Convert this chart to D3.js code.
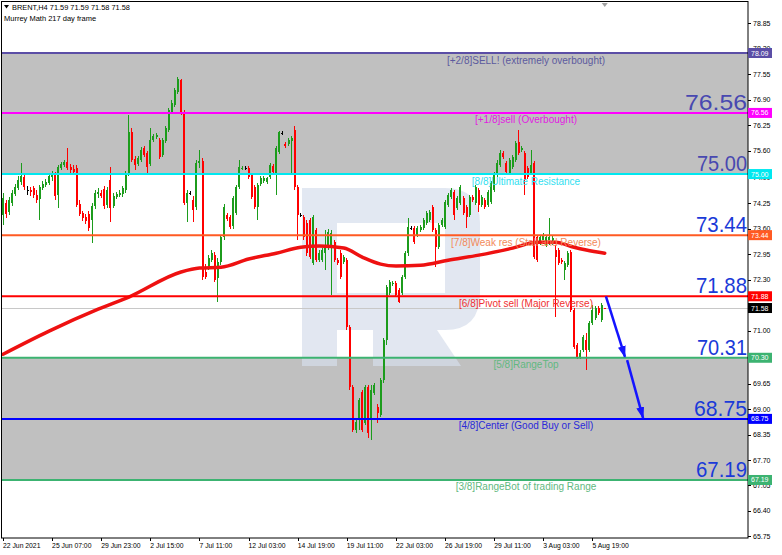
<!DOCTYPE html>
<html>
<head>
<meta charset="utf-8">
<script src="https://cdn.jsdelivr.net/npm/d3@7"></script>
<style>
  html, body { margin: 0; padding: 0; background: #ffffff; }
  svg { display: block; font-family: "Liberation Sans", Arial, sans-serif; }
</style>
</head>
<body>
<svg id="chart" width="782" height="555"></svg>
<script>
// ---- data -------------------------------------------------------------
const symbolTitle = "BRENT,H4";
const lastQuote = ["71.59", "71.59", "71.58", "71.58"];
const indicatorName = "Murrey Math 217 day frame";

// H4 candles [open, high, low, close], 22 Jun 2021 .. 6 Aug 2021
const candles = [
  [73.95,74.52,73.70,74.39],[74.26,74.34,73.87,73.98],[74.03,74.41,73.95,74.34],[74.26,74.59,74.18,74.52],
  [74.49,74.74,74.44,74.67],[74.64,74.95,74.59,74.85],[74.80,75.28,74.72,74.95],[74.92,75.00,74.59,74.67],
  [74.59,74.69,74.46,74.59],[74.59,74.67,74.44,74.54],[74.64,74.69,74.39,74.46],[74.46,74.59,74.26,74.34],
  [74.36,74.72,73.83,74.67],[74.64,74.82,74.59,74.74],[74.72,74.87,74.67,74.80],[74.77,75.03,74.72,74.95],
  [74.92,75.08,74.82,75.03],[75.00,75.05,74.34,74.44],[74.46,75.23,74.13,75.18],[75.15,75.31,75.10,75.26],
  [75.23,75.36,75.18,75.31],[75.31,75.66,75.10,75.15],[75.18,75.26,75.03,75.10],[75.13,75.23,74.97,75.05],
  [75.15,75.23,74.16,74.21],[74.23,74.34,73.93,73.98],[74.00,74.05,73.80,73.87],[73.90,73.98,73.72,73.80],
  [73.98,74.05,73.54,73.62],[73.83,74.26,73.24,74.18],[74.18,74.59,74.10,74.52],[74.49,74.64,74.39,74.54],
  [74.52,74.59,74.39,74.44],[74.62,74.69,74.10,74.18],[74.21,74.67,74.13,74.59],[74.85,75.18,73.77,74.13],
  [74.18,74.52,74.13,74.44],[74.41,74.54,74.36,74.49],[74.46,74.59,74.41,74.52],[74.49,74.69,74.41,74.64],
  [74.59,75.08,74.52,75.03],[75.00,76.51,74.95,76.07],[76.07,76.17,75.31,75.36],[75.38,75.46,75.10,75.23],
  [75.26,75.46,75.20,75.41],[75.36,75.69,75.31,75.61],[75.66,75.72,75.44,75.49],[75.54,75.59,75.03,75.18],
  [75.26,76.17,75.20,75.87],[75.87,76.02,75.82,75.97],[75.95,76.05,75.89,76.00],[75.87,75.92,75.38,75.44],
  [75.49,75.92,75.44,75.87],[75.84,76.23,75.79,76.17],[76.12,76.69,76.07,76.64],[76.58,76.89,76.53,76.81],
  [76.76,77.20,76.71,77.15],[77.09,77.48,77.04,77.43],[77.40,77.43,76.51,76.56],[76.56,76.64,74.21,74.26],
  [74.26,74.59,73.77,74.52],[74.52,74.57,74.46,74.52],[74.34,74.44,73.77,74.08],[74.16,75.36,74.08,75.28],
  [75.28,75.61,75.15,75.33],[75.33,75.41,72.29,72.37],[72.50,72.70,72.32,72.37],[72.62,72.93,72.55,72.85],
  [72.80,73.06,72.75,72.98],[72.93,73.01,72.24,72.29],[72.34,72.85,71.73,72.75],[72.75,73.44,72.67,73.39],
  [73.39,74.23,73.31,74.16],[73.95,74.00,73.80,73.85],[73.90,73.95,73.59,73.65],[73.67,74.44,73.59,74.39],
  [74.00,74.72,73.95,74.67],[74.67,75.36,74.62,75.18],[75.13,75.20,75.10,75.15],[75.15,75.20,75.10,75.15],
  [75.15,75.20,74.87,74.92],[74.97,75.03,74.36,74.41],[74.67,74.72,74.10,74.16],[74.16,74.77,73.83,74.72],
  [74.74,74.95,74.69,74.90],[74.82,74.95,74.77,74.90],[74.80,74.92,74.74,74.90],[74.92,75.28,74.87,75.23],
  [75.20,75.26,75.00,75.05],[75.03,75.72,74.46,75.66],[75.56,76.10,75.51,76.07],[76.05,76.10,76.00,76.05],
  [75.77,75.82,75.66,75.72],[75.77,75.92,75.72,75.87],[75.84,75.97,74.97,75.92],[76.12,76.23,74.59,74.67],
  [74.67,74.72,73.31,73.95],[73.95,74.00,73.90,73.95],[73.90,73.95,73.31,73.39],[73.75,73.83,72.90,72.98],
  [73.83,73.87,72.83,72.88],[72.73,73.95,72.67,73.90],[73.57,73.62,72.75,72.80],[72.80,73.06,72.75,72.98],
  [72.80,73.11,72.75,73.06],[72.98,73.57,72.55,73.19],[73.16,73.59,73.06,73.52],[73.19,73.57,71.91,73.49],
  [73.26,73.31,72.75,72.80],[72.80,72.85,72.67,72.73],[72.98,73.06,72.32,72.37],[72.75,72.93,72.70,72.88],
  [72.80,72.85,71.02,71.09],[71.09,71.14,69.48,69.56],[69.56,69.61,68.41,68.46],[68.46,68.77,68.39,68.67],
  [68.72,69.28,68.46,69.23],[69.43,69.48,68.41,68.46],[68.64,69.61,68.59,69.56],[69.56,69.61,68.26,68.39],
  [68.72,69.61,68.21,69.48],[69.41,69.66,69.36,69.61],[69.05,69.13,68.64,68.90],[68.85,69.79,68.79,69.74],
  [69.74,70.81,69.66,70.76],[70.76,72.16,70.63,72.11],[71.96,72.29,71.91,72.24],[72.19,72.27,72.14,72.21],
  [72.21,72.27,71.86,71.91],[72.04,72.09,71.70,71.73],[71.96,72.42,71.91,72.37],[72.37,73.03,72.32,72.98],
  [72.98,73.87,72.90,73.65],[73.62,73.67,73.57,73.62],[73.62,73.67,73.21,73.26],[73.44,73.67,73.39,73.62],
  [73.57,73.70,73.52,73.65],[73.62,73.87,73.57,73.83],[73.75,74.05,73.70,74.00],[73.83,74.08,73.77,74.03],
  [74.16,74.21,73.52,73.57],[73.57,73.62,72.62,73.13],[73.13,73.75,73.08,73.70],[73.70,73.87,73.65,73.83],
  [73.65,74.34,73.59,74.28],[74.21,74.52,74.16,74.46],[74.41,74.64,74.36,74.59],[74.54,74.59,73.83,73.95],
  [74.13,74.44,74.08,74.39],[74.26,74.72,74.21,74.67],[74.39,74.44,73.95,74.00],[74.16,74.21,73.62,73.90],
  [73.95,74.46,73.90,74.41],[74.41,74.46,74.28,74.34],[74.26,74.72,74.21,74.67],[74.59,74.64,74.03,74.21],
  [74.21,74.46,74.16,74.41],[74.34,74.39,74.10,74.16],[74.21,74.59,74.16,74.54],[74.28,74.82,74.23,74.77],
  [74.59,75.05,74.54,74.97],[74.97,75.36,74.92,75.28],[75.23,75.61,75.18,75.54],[75.54,75.59,75.38,75.44],
  [75.28,75.33,75.00,75.05],[75.03,75.41,74.97,75.36],[75.18,75.49,75.13,75.44],[75.36,75.84,75.31,75.79],
  [75.82,76.12,75.49,75.54],[75.61,75.72,75.56,75.66],[75.54,75.59,74.46,74.85],[75.15,75.20,74.87,74.92],
  [75.03,75.61,74.97,75.23],[75.28,75.33,72.83,72.88],[73.39,73.44,72.75,72.80],[73.24,73.44,73.19,73.39],
  [73.31,73.49,73.26,73.44],[73.19,73.44,73.13,73.39],[73.24,73.87,73.19,73.39],[73.24,73.41,73.19,73.36],
  [73.06,73.19,71.35,72.88],[73.06,73.11,72.67,72.73],[72.80,72.85,72.70,72.75],[72.55,72.78,72.29,72.73],
  [72.67,73.03,72.62,72.98],[73.01,73.06,71.47,71.53],[71.53,71.58,70.53,70.58],[70.63,70.68,70.28,70.33],
  [70.33,70.50,70.28,70.43],[70.50,70.89,70.45,70.84],[70.76,70.94,69.99,70.50],[70.50,71.24,70.45,71.19],
  [71.19,71.65,71.14,71.53],[71.32,71.63,71.27,71.58],[71.58,71.63,71.40,71.45],[71.27,71.70,71.22,71.65],
  [71.59,71.59,71.58,71.58]
];

// time axis: one label every 16 bars
const dateTickBars = [0, 16, 32, 48, 64, 80, 96, 112, 128, 144, 160, 176, 192];
const dateTickLabels = ["22 Jun 2021", "25 Jun 07:00", "29 Jun 23:00", "2 Jul 15:00", "7 Jul 11:00",
  "12 Jul 03:00", "14 Jul 19:00", "19 Jul 11:00", "22 Jul 03:00", "26 Jul 19:00", "29 Jul 11:00",
  "3 Aug 03:00", "5 Aug 19:00"];

// price axis grid values (70.35 sits under the 70.30 tag, so only its tick is drawn)
const priceTicks = [78.85, 78.20, 77.55, 76.90, 76.25, 75.60, 74.90, 74.25, 73.60, 72.95, 72.30,
  71.65, 71.00, 70.35, 69.65, 69.00, 68.35, 67.70, 67.05, 66.40, 65.75];
const hiddenTickLabels = [70.35];

// Murrey Math octave levels
const murreyLevels = [78.09, 76.56, 75.00, 73.44, 71.88, 70.31, 68.75, 67.19];
const murreyTagText = ["78.09", "76.56", "75.00", "73.44", "71.88", "70.30", "68.75", "67.19"];
const murreyBigText = ["", "76.56", "75.00", "73.44", "71.88", "70.31", "68.75", "67.19"];
const murreyNames = [
  "[+2/8]SELL! (extremely overbought)",
  "[+1/8]sell (Overbought)",
  "[8/8]Ultimate Resistance",
  "[7/8]Weak res (Stall and Reverse)",
  "[6/8]Pivot sell (Major Reverse)",
  "[5/8]RangeTop",
  "[4/8]Center (Good Buy or Sell)",
  "[3/8]RangeBot of trading Range"
];
const shadedBands = [[78.09, 75.00], [70.31, 67.19]];

// current bid line
const bidPrice = 71.58;

// slow moving average, sampled along the bars
const maBars =   [0, 15, 31, 41, 58, 64, 71, 80, 89, 97, 103, 111, 117, 123, 128, 136, 145, 155, 166, 174, 180, 186, 190, 196];
const maValues = [70.40, 70.99, 71.55, 71.86, 72.50, 72.60, 72.62, 72.83, 72.98, 73.13, 73.16, 73.11, 72.88, 72.70,
  72.65, 72.67, 72.80, 72.93, 73.11, 73.26, 73.26, 73.13, 73.06, 72.98];

// projected path arrows [bar, price] -> [bar, price]
const forecastArrows = [
  { from: [196.4, 71.88], to: [202.6, 70.33] },
  { from: [203.3, 70.25], to: [208.5, 68.77] }
];

// ---- styles ------------------------------------------------------------
const murreyColors = ["#5b4ea6", "#ff00ff", "#00e8f0", "#ff5a23", "#ff0000", "#3cb371", "#0000ff", "#3cb371"];
const murreyNameColors = ["#5c5a9e", "#e020e0", "#30e0f0", "#f28a5a", "#f03030", "#62b880", "#2a2ad8", "#62b880"];
const murreyBigColors = ["#4848b0", "#4848b0", "#4848b0", "#1a3ad8", "#1a3ad8", "#1a3ad8", "#1a3ad8", "#1a3ad8"];
const murreyBigWidths = [0, 62, 50, 51, 51, 50, 53, 51];

// ---- layout ------------------------------------------------------------
const W = 782, H = 555;
const plot = { left: 2, right: 748, top: 2, bottom: 538 };
const labelCenterX = 526;

const svg = d3.select("#chart");
const x = d3.scaleLinear().domain([0, 242.67]).range([3, 748]);
const y = d3.scaleLinear().domain([65.709, 79.392]).range([plot.bottom, plot.top]);

svg.append("rect").attr("width", W).attr("height", H).attr("fill", "#ffffff");

const defs = svg.append("defs");
defs.append("clipPath").attr("id", "plotClip")
  .append("rect")
  .attr("x", plot.left).attr("y", plot.top)
  .attr("width", plot.right - plot.left).attr("height", plot.bottom - plot.top);

defs.append("marker")
  .attr("id", "arrowHead")
  .attr("viewBox", "0 0 12 8")
  .attr("refX", 11).attr("refY", 4)
  .attr("markerWidth", 12).attr("markerHeight", 8)
  .attr("markerUnits", "userSpaceOnUse")
  .attr("orient", "auto")
  .append("path").attr("d", "M0,0 L12,4 L0,8 Z").attr("fill", "#1414ff");

const g = svg.append("g").attr("clip-path", "url(#plotClip)");

// shaded octave bands
g.selectAll("rect.band").data(shadedBands).join("rect")
  .attr("class", "band")
  .attr("x", plot.left).attr("width", plot.right - plot.left)
  .attr("y", d => y(d[0])).attr("height", d => y(d[1]) - y(d[0]))
  .attr("fill", "#c0c0c0");

// broker logo watermark
const logo = g.append("g").attr("fill", "#d6deec").attr("opacity", 0.7);
logo.append("path")
  .attr("fill-rule", "evenodd")
  .attr("d", "M302,188 H445 Q480,188 480,223 V293 Q480,330 445,330 H337 V366 H302 Z M337,223 H445 V293 H337 Z");
logo.append("path").attr("d", "M373,330 H437 L461,366 H373 Z");

// bid line
g.append("line")
  .attr("x1", plot.left).attr("x2", plot.right)
  .attr("y1", Math.round(y(bidPrice)) + 0.5).attr("y2", Math.round(y(bidPrice)) + 0.5)
  .attr("stroke", "#c8c8c8").attr("stroke-width", 1);

// candles
const bullColor = "#1c9c1c", bearColor = "#ff0000", flatColor = "#000000";
const candleColor = d => d[3] > d[0] ? bullColor : (d[3] < d[0] ? bearColor : flatColor);
const cg = g.append("g").attr("shape-rendering", "crispEdges");
cg.selectAll("line.wick").data(candles).join("line")
  .attr("class", "wick")
  .attr("x1", (d, i) => x(i)).attr("x2", (d, i) => x(i))
  .attr("y1", d => y(d[1])).attr("y2", d => y(d[2]))
  .attr("stroke", candleColor).attr("stroke-width", 1);
cg.selectAll("rect.body").data(candles).join("rect")
  .attr("class", "body")
  .attr("x", (d, i) => x(i) - 1).attr("width", 2)
  .attr("y", d => y(Math.max(d[0], d[3])))
  .attr("height", d => Math.max(1, Math.abs(y(d[0]) - y(d[3]))))
  .attr("fill", candleColor);

// moving average
g.append("path")
  .datum(maBars.map((b, i) => [b, maValues[i]]))
  .attr("fill", "none").attr("stroke", "#ee1111").attr("stroke-width", 3.5)
  .attr("stroke-linecap", "round")
  .attr("d", d3.line().x(d => x(d[0])).y(d => y(d[1])).curve(d3.curveMonotoneX));

// Murrey level lines
g.selectAll("line.level").data(murreyLevels).join("line")
  .attr("class", "level")
  .attr("x1", plot.left).attr("x2", plot.right)
  .attr("y1", d => y(d)).attr("y2", d => y(d))
  .attr("stroke", (d, i) => murreyColors[i]).attr("stroke-width", 2);

// level names under each line
g.selectAll("text.lvlname").data(murreyLevels).join("text")
  .attr("class", "lvlname")
  .attr("x", labelCenterX).attr("y", d => y(d) + 10.5)
  .attr("text-anchor", "middle")
  .attr("font-size", 10)
  .attr("fill", (d, i) => murreyNameColors[i])
  .text((d, i) => murreyNames[i]);

// large level values on the right
g.selectAll("text.lvlbig").data(murreyLevels.filter((d, i) => murreyBigText[i] !== "")).join("text")
  .attr("class", "lvlbig")
  .each(function (d) {
    const i = murreyLevels.indexOf(d);
    d3.select(this)
      .attr("x", plot.right - 1 - murreyBigWidths[i]).attr("y", y(d) - 3)
      .attr("font-size", 22)
      .attr("textLength", murreyBigWidths[i])
      .attr("lengthAdjust", "spacingAndGlyphs")
      .attr("fill", murreyBigColors[i])
      .text(murreyBigText[i]);
  });

// forecast arrows
g.selectAll("line.arrow").data(forecastArrows).join("line")
  .attr("class", "arrow")
  .attr("x1", d => x(d.from[0])).attr("y1", d => y(d.from[1]))
  .attr("x2", d => x(d.to[0])).attr("y2", d => y(d.to[1]))
  .attr("stroke", "#1414ff").attr("stroke-width", 2.5)
  .attr("marker-end", "url(#arrowHead)");

// shift marker at the last bar
const lastX = x(candles.length - 1);
svg.append("path")
  .attr("d", `M${lastX - 3},${plot.top + 1} L${lastX + 3},${plot.top + 1} L${lastX},${plot.top + 5} Z`)
  .attr("fill", "#a0a0a0");

// plot frame
svg.append("rect")
  .attr("x", plot.left - 0.5).attr("y", plot.top - 0.5)
  .attr("width", plot.right - plot.left + 0.5).attr("height", plot.bottom - plot.top + 0.5)
  .attr("fill", "none").attr("stroke", "#000").attr("stroke-width", 1);

// price axis
const pAxis = svg.append("g").attr("font-size", 7).attr("fill", "#000");
pAxis.selectAll("line").data(priceTicks).join("line")
  .attr("x1", plot.right).attr("x2", plot.right + 3)
  .attr("y1", d => Math.round(y(d)) + 0.5).attr("y2", d => Math.round(y(d)) + 0.5)
  .attr("stroke", "#000");
pAxis.selectAll("text").data(priceTicks.filter(v => !hiddenTickLabels.includes(v))).join("text")
  .attr("x", plot.right + 5).attr("y", d => y(d) + 2.5)
  .text(d => d.toFixed(2));

// level tags on the price axis
const tagData = murreyLevels.map((v, i) => ({ v, text: murreyTagText[i], color: murreyColors[i] }))
  .concat([{ v: bidPrice, text: bidPrice.toFixed(2), color: "#000000" }]);
const tags = svg.append("g");
tags.selectAll("rect").data(tagData).join("rect")
  .attr("x", plot.right).attr("y", d => y(d.v) - 5)
  .attr("width", 24).attr("height", 10)
  .attr("fill", d => d.color);
tags.selectAll("text").data(tagData).join("text")
  .attr("x", plot.right + 3).attr("y", d => y(d.v) + 2.5)
  .attr("font-size", 7).attr("fill", "#fff")
  .text(d => d.text);

// time axis
const tAxis = svg.append("g").attr("font-size", 6.8).attr("fill", "#000");
tAxis.selectAll("line").data(dateTickBars).join("line")
  .attr("x1", d => Math.round(x(d)) + 0.5).attr("x2", d => Math.round(x(d)) + 0.5)
  .attr("y1", plot.bottom).attr("y2", plot.bottom + 3)
  .attr("stroke", "#000");
tAxis.selectAll("text").data(dateTickBars).join("text")
  .attr("x", d => x(d)).attr("y", plot.bottom + 10)
  .text((d, i) => dateTickLabels[i]);

// header
svg.append("path").attr("d", "M4,5 L9,5 L6.5,8.5 Z").attr("fill", "#000");
svg.append("text").attr("x", 12).attr("y", 9.5).attr("font-size", 7.4).attr("fill", "#000")
  .text(symbolTitle + "  " + lastQuote.join(" "));
svg.append("text").attr("x", 4).attr("y", 21).attr("font-size", 7.5).attr("fill", "#000")
  .text(indicatorName);
</script>
</body>
</html>
